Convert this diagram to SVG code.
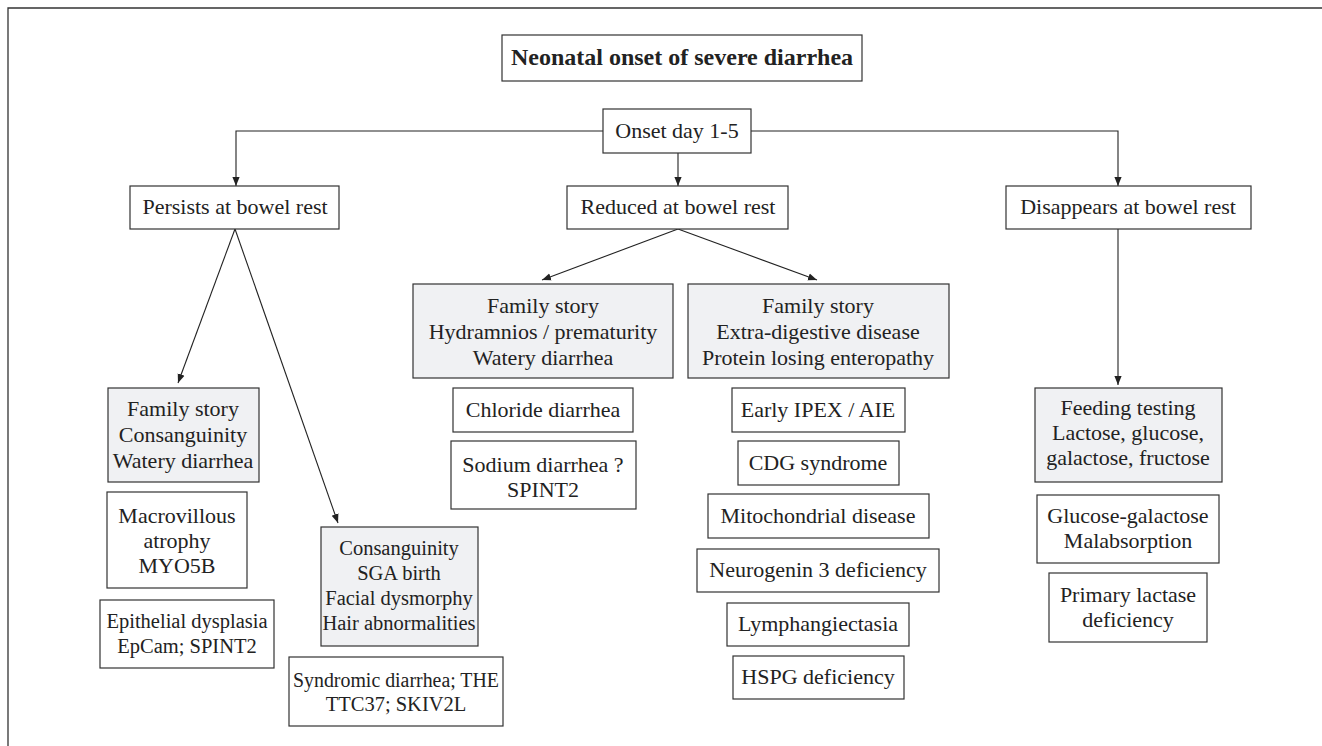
<svg xmlns="http://www.w3.org/2000/svg" width="1322" height="746" viewBox="0 0 1322 746">
<defs>
<marker id="ah" viewBox="0 0 10 10" refX="10" refY="5" markerWidth="9" markerHeight="9" markerUnits="userSpaceOnUse" orient="auto">
<path d="M0,1 L10,5 L0,9 Z" fill="#222"/>
</marker>
<style>
.b{fill:#fff;stroke:#333;stroke-width:1.2}
.g{fill:#f0f1f3;stroke:#333;stroke-width:1.2}
text{font-family:"Liberation Serif","DejaVu Serif",serif;font-size:22px;fill:#222;text-anchor:middle}
.t{font-weight:bold;font-size:24px}
.s{font-size:20.5px}
.c{fill:none;stroke:#222;stroke-width:1.1}
</style>
</defs>
<rect width="1322" height="746" fill="#fff"/>
<path d="M1322,8 H8 V746" fill="none" stroke="#333" stroke-width="1.3"/>
<g id="connectors">
<path class="c" d="M603,131 H236 V186" marker-end="url(#ah)"/>
<path class="c" d="M751,131 H1118 V186" marker-end="url(#ah)"/>
<path class="c" d="M678,153 V186" marker-end="url(#ah)"/>
<path class="c" d="M235,229 L178,383" marker-end="url(#ah)"/>
<path class="c" d="M235,229 L338,523" marker-end="url(#ah)"/>
<path class="c" d="M678,229 L542,280" marker-end="url(#ah)"/>
<path class="c" d="M678,229 L817,280" marker-end="url(#ah)"/>
<path class="c" d="M1118,229 V385" marker-end="url(#ah)"/>
</g>
<g id="title"><rect class="b" x="502" y="35" width="360" height="46"/><text class="t" x="682" y="65">Neonatal onset of severe diarrhea</text></g>
<g id="onset"><rect class="b" x="603" y="109" width="148" height="44"/><text x="677" y="138">Onset day 1-5</text></g>
<g id="persists"><rect class="b" x="130" y="186" width="209" height="43"/><text x="235" y="214">Persists at bowel rest</text></g>
<g id="reduced"><rect class="b" x="567" y="186" width="221" height="43"/><text x="678" y="214">Reduced at bowel rest</text></g>
<g id="disappears"><rect class="b" x="1006" y="186" width="245" height="43"/><text x="1128" y="214">Disappears at bowel rest</text></g>
<g id="fam1"><rect class="g" x="108" y="388" width="151" height="94"/><text x="183" y="416">Family story</text><text x="183" y="442">Consanguinity</text><text x="183" y="468">Watery diarrhea</text></g>
<g id="macro"><rect class="b" x="107" y="492" width="140" height="96"/><text x="177" y="523">Macrovillous</text><text x="177" y="548">atrophy</text><text x="177" y="573">MYO5B</text></g>
<g id="epi"><rect class="b" x="100" y="600" width="174" height="68"/><text class="s" x="187" y="628">Epithelial dysplasia</text><text class="s" x="187" y="653">EpCam; SPINT2</text></g>
<g id="cons"><rect class="g" x="321" y="527" width="157" height="119"/><text class="s" x="399" y="555">Consanguinity</text><text class="s" x="399" y="580">SGA birth</text><text class="s" x="399" y="605">Facial dysmorphy</text><text class="s" x="399" y="630">Hair abnormalities</text></g>
<g id="synd"><rect class="b" x="289" y="657" width="214" height="69"/><text class="s" x="396" y="687" textLength="206" lengthAdjust="spacingAndGlyphs">Syndromic diarrhea; THE</text><text class="s" x="396" y="711">TTC37; SKIV2L</text></g>
<g id="fam2"><rect class="g" x="413" y="284" width="260" height="94"/><text x="543" y="313">Family story</text><text x="543" y="339">Hydramnios / prematurity</text><text x="543" y="365">Watery diarrhea</text></g>
<g id="fam3"><rect class="g" x="688" y="284" width="261" height="94"/><text x="818" y="313">Family story</text><text x="818" y="339">Extra-digestive disease</text><text x="818" y="365">Protein losing enteropathy</text></g>
<g id="chloride"><rect class="b" x="453" y="388" width="180" height="44"/><text x="543" y="417">Chloride diarrhea</text></g>
<g id="sodium"><rect class="b" x="451" y="441" width="185" height="68"/><text x="543" y="472">Sodium diarrhea ?</text><text x="543" y="497">SPINT2</text></g>
<g id="ipex"><rect class="b" x="732" y="388" width="173" height="44"/><text x="818" y="417">Early IPEX / AIE</text></g>
<g id="cdg"><rect class="b" x="738" y="441" width="161" height="44"/><text x="818" y="470">CDG syndrome</text></g>
<g id="mito"><rect class="b" x="708" y="494" width="221" height="44"/><text x="818" y="523">Mitochondrial disease</text></g>
<g id="neuro"><rect class="b" x="697" y="549" width="242" height="43"/><text x="818" y="577">Neurogenin 3 deficiency</text></g>
<g id="lymph"><rect class="b" x="727" y="603" width="182" height="43"/><text x="818" y="631">Lymphangiectasia</text></g>
<g id="hspg"><rect class="b" x="733" y="656" width="171" height="43"/><text x="818" y="684">HSPG deficiency</text></g>
<g id="feeding"><rect class="g" x="1035" y="388" width="187" height="94"/><text x="1128" y="415">Feeding testing</text><text x="1128" y="440">Lactose, glucose,</text><text x="1128" y="465">galactose, fructose</text></g>
<g id="ggm"><rect class="b" x="1037" y="495" width="182" height="68"/><text x="1128" y="523">Glucose-galactose</text><text x="1128" y="548">Malabsorption</text></g>
<g id="lactase"><rect class="b" x="1049" y="573" width="158" height="69"/><text x="1128" y="602">Primary lactase</text><text x="1128" y="627">deficiency</text></g>
</svg>
